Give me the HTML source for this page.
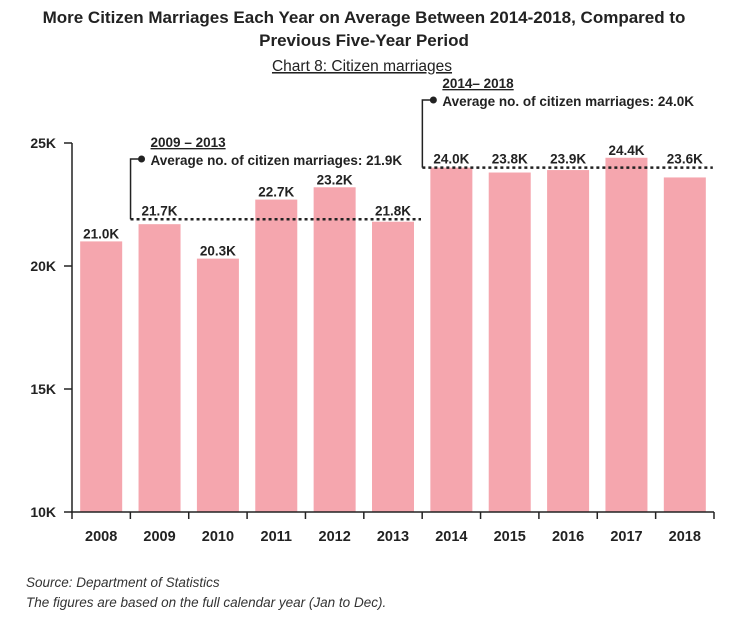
<!DOCTYPE html>
<html><head><meta charset="utf-8"><style>
body{margin:0;background:#fff;width:729px;height:621px;overflow:hidden;font-family:"Liberation Sans",sans-serif}
svg text{font-family:"Liberation Sans",sans-serif}
</style></head><body>
<svg width="729" height="621">
<text x="364" y="23" text-anchor="middle" font-size="17" font-weight="bold" fill="#222">More Citizen Marriages Each Year on Average Between 2014-2018, Compared to</text>
<text x="364" y="46" text-anchor="middle" font-size="17" font-weight="bold" fill="#222">Previous Five-Year Period</text>
<text x="362" y="71" text-anchor="middle" font-size="15.5" fill="#222" text-decoration="underline">Chart 8: Citizen marriages</text>
<g id="plot"></g>
<text x="26" y="587" font-size="13.5" font-style="italic" fill="#333">Source: Department of Statistics</text>
<text x="26" y="607" font-size="13.5" font-style="italic" fill="#333">The figures are based on the full calendar year (Jan to Dec).</text>
</svg>
<script>
const years=["2008","2009","2010","2011","2012","2013","2014","2015","2016","2017","2018"];
const values=[21.0,21.7,20.3,22.7,23.2,21.8,24.0,23.8,23.9,24.4,23.6];
const yTicks=[10,15,20,25];
const avgPeriods=["2009 – 2013","2014– 2018"];
const avgValues=[21.9,24.0];
const avgStart=[1,6];
const avgEnd=[5,10];
const NS="http://www.w3.org/2000/svg";
const g=document.getElementById('plot');
const X0=72,X1=714,Y0=512,Y1=143;
const step=(X1-X0)/years.length;
const y=v=>Y0-(v-10)/(25-10)*(Y0-Y1);
const xc=i=>X0+step*(i+0.5);
function el(t,a,p){const e=document.createElementNS(NS,t);for(const k in a)e.setAttribute(k,a[k]);(p||g).appendChild(e);return e;}
years.forEach((yr,i)=>{
 const r=el('rect',{x:xc(i)-21,y:y(values[i]),width:42,height:Y0-y(values[i]),fill:'#f5a6ae'});
 
 
 let base=y(values[i])-3;
 avgPeriods.forEach((p,k)=>{
  const ly=y(avgValues[k]);
  if(i>=avgStart[k]&&i<=avgEnd[k]&&base>ly-4&&base-11<ly+2)base=ly-4;
 });
 const l=el('text',{x:xc(i),y:base,'text-anchor':'middle','font-size':'13.5','font-weight':'bold',fill:'#222'});
 l.textContent=values[i].toFixed(1)+'K';
 
 
 const t=el('text',{x:xc(i),y:541,'text-anchor':'middle','font-size':'14.5','font-weight':'bold',fill:'#222'});
 t.textContent=yr;
 
 
});
for(let i=0;i<=years.length;i++){el('line',{x1:X0+step*i,x2:X0+step*i,y1:Y0,y2:Y0+7,stroke:'#222','stroke-width':1.5});}
const xa=el('line',{x1:X0-1,x2:X1,y1:Y0,y2:Y0,stroke:'#222','stroke-width':1.5});


const ya=el('line',{x1:X0,x2:X0,y1:Y1,y2:Y0,stroke:'#222','stroke-width':1.5});


yTicks.forEach(v=>{
 el('line',{x1:X0-8,x2:X0,y1:y(v),y2:y(v),stroke:'#222','stroke-width':1.5});
 const t=el('text',{x:X0-16,y:y(v)+5,'text-anchor':'end','font-size':'14','font-weight':'bold',fill:'#222'});
 t.textContent=v+'K';
 
 
});
avgPeriods.forEach((p,k)=>{
 const yy=y(avgValues[k]);
 const xs=xc(avgStart[k])-29, xe=xc(avgEnd[k])+28;
 const top=k===0?159:100;
 const ln=el('line',{x1:xs,x2:xe,y1:yy,y2:yy,stroke:'#222','stroke-width':2.5,'stroke-dasharray':'3,3'});
 
 
 el('polyline',{points:`${xs},${yy} ${xs},${top} ${xs+11},${top}`,fill:'none',stroke:'#222','stroke-width':1.5});
 el('circle',{cx:xs+11,cy:top,r:3.5,fill:'#222'});
 const t1=el('text',{x:xs+20,y:top-12,'font-size':'13.5','font-weight':'bold',fill:'#222','text-decoration':'underline'});
 t1.textContent=p;
 
 
 const t2=el('text',{x:xs+20,y:top+6,'font-size':'13.5','font-weight':'bold',fill:'#222'});
 t2.textContent='Average no. of citizen marriages: '+avgValues[k].toFixed(1)+'K';
 
 
});
</script>
</body></html>
